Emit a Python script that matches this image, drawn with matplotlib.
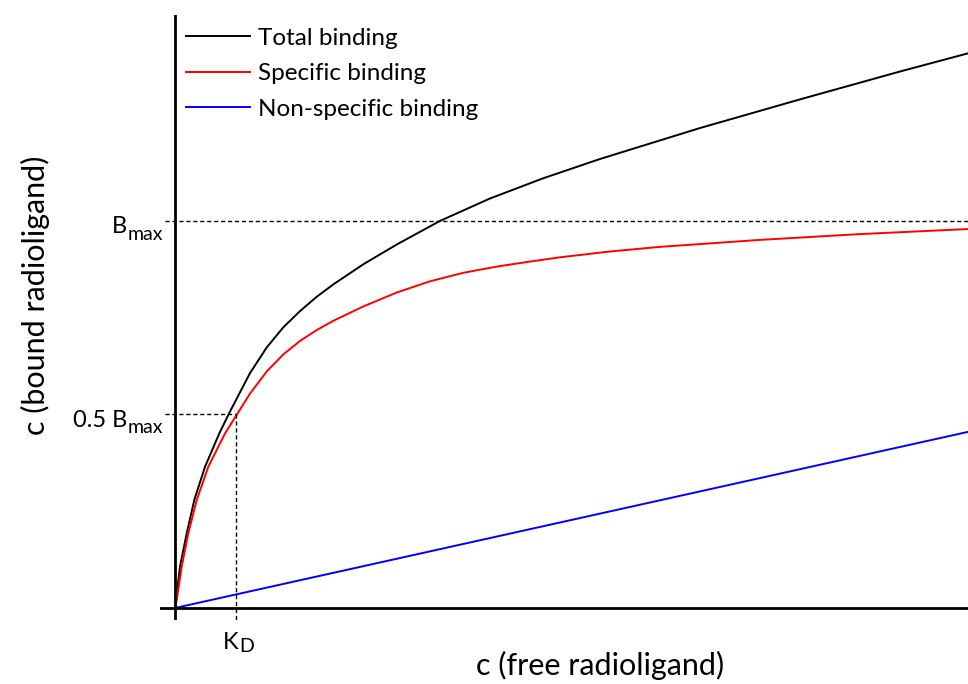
import matplotlib.pyplot as plt

plt.rcParams['font.family'] = ['Lato', 'DejaVu Sans']

# concentration in units of K_D, binding in units of B_max
total_x = [0, 0.082, 0.192, 0.316, 0.492, 0.726, 0.890, 1.230, 1.503, 1.775,
           2.049, 2.323, 2.595, 3.087, 3.634, 4.344, 5.164, 6.033, 6.967, 8.607,
           10.246, 11.885, 13.0]
total_y = [0, 0.107, 0.193, 0.279, 0.365, 0.451, 0.504, 0.607, 0.673, 0.725,
           0.767, 0.804, 0.836, 0.888, 0.939, 1.000, 1.058, 1.110, 1.160, 1.240,
           1.314, 1.386, 1.433]

specific_x = [0, 0.028, 0.110, 0.218, 0.356, 0.546, 0.820, 1.011, 1.230, 1.503,
              1.775, 2.049, 2.323, 2.595, 3.087, 3.634, 4.180, 4.726, 5.274, 5.820,
              6.311, 7.131, 7.951, 9.590, 11.230, 13.0]
specific_y = [0, 0.021, 0.107, 0.193, 0.279, 0.365, 0.451, 0.499, 0.554, 0.611,
              0.655, 0.690, 0.718, 0.742, 0.779, 0.815, 0.844, 0.866, 0.882, 0.895,
              0.906, 0.921, 0.933, 0.951, 0.966, 0.979]

nonspec_x = [0, 13.0]
nonspec_y = [0, 0.455]

kd = 1.0
bmax = 1.0

fig = plt.figure(figsize=(9.68, 6.84), dpi=100)
ax = fig.add_axes([160/968, 64/684, 808/968, 605/684])
ax.set_xlim(-0.246, 13.0)
ax.set_ylim(-0.031, 1.532)
for s in ax.spines.values():
    s.set_visible(False)
ax.set_xticks([])
ax.set_yticks([])

ax.plot(total_x, total_y, color='black', lw=1.4, solid_joinstyle='round', label='Total binding')
ax.plot(specific_x, specific_y, color='red', lw=1.4, solid_joinstyle='round', label='Specific binding')
ax.plot(nonspec_x, nonspec_y, color='blue', lw=1.4, label='Non-specific binding')

# guide lines
ax.plot([-0.16, 13.0], [bmax, bmax], color='black', lw=1, ls=(0, (3, 2)))
ax.plot([-0.16, kd], [bmax/2, bmax/2], color='black', lw=1, ls=(0, (3, 2)))
ax.plot([kd, kd], [bmax/2, -0.031], color='black', lw=1, ls=(0, (3, 2)))

# axes
ax.axhline(0, color='black', lw=2)
ax.axvline(0, color='black', lw=2)

# B_max style labels: big subscript, like the original
sub = ax.text(-0.2, bmax - 0.012, 'max', ha='right', va='top', fontsize=14)
ax.annotate('B', xy=(0, 0.55), xycoords=sub, ha='right', va='baseline', fontsize=17)
sub = ax.text(-0.2, bmax/2 - 0.012, 'max', ha='right', va='top', fontsize=14)
ax.annotate('0.5 B', xy=(0, 0.55), xycoords=sub, ha='right', va='baseline', fontsize=17)
k = ax.text(kd - 0.08, -0.062, 'K', ha='center', va='top', fontsize=17)
ax.annotate('D', xy=(1.0, -0.1), xycoords=k, ha='left', va='bottom', fontsize=14)

fig.text(600/968, 1 - 665/684, 'c (free radioligand)', ha='center', va='center', fontsize=22)
fig.text(35/968, 1 - 295/684, 'c (bound radioligand)', ha='center', va='center',
         fontsize=22, rotation=90)

ax.legend(loc='upper left', bbox_to_anchor=(0.0198, 0.995), frameon=False, fontsize=17.5,
          handlelength=2.63, handletextpad=0.33, labelspacing=0.6, borderaxespad=0)

fig.savefig('out.png', dpi=100)
